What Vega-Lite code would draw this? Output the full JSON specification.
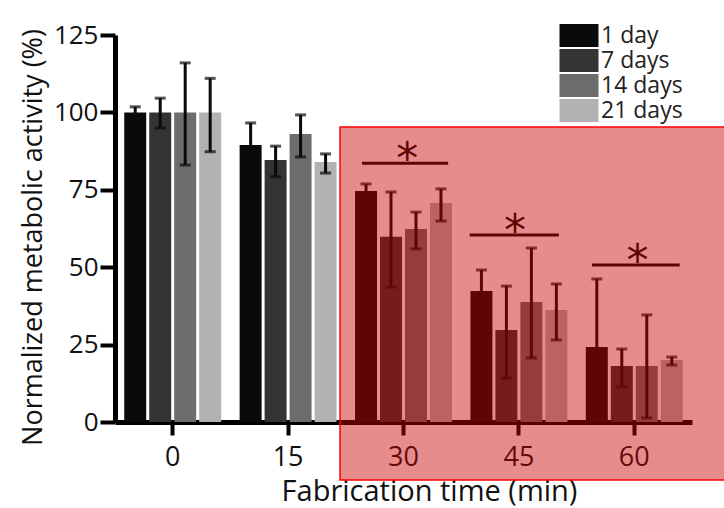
{
  "$schema": "https://vega.github.io/schema/vega-lite/v6.json",
  "autosize": "none",
  "width": 577,
  "height": 387,
  "padding": {"left": 115, "top": 35, "right": 32, "bottom": 86},
  "background": "white",
  "config": {
    "view": {"stroke": null},
    "font": "Open Sans",
    "axis": {"grid": false, "domainColor": "black", "tickColor": "black", "labelColor": "#111", "titleColor": "#111", "titleFontWeight": "normal", "labelFont": "Open Sans", "titleFont": "Open Sans"},
    "legend": {
      "symbolType": "M-1.95,-1.15L1.95,-1.15L1.95,1.15L-1.95,1.15Z",
      "symbolSize": 400,
      "symbolStrokeWidth": 0,
      "symbolOpacity": 1,
      "labelFontSize": 23,
      "labelFont": "Open Sans",
      "labelColor": "#222",
      "labelOffset": 10.5,
      "rowPadding": 1,
      "padding": 0
    }
  },
  "datasets": {
    "bars": [
      {"time": "0", "day": "1 day", "value": 100, "lo": 98.5, "hi": 101.8},
      {"time": "0", "day": "7 days", "value": 100, "lo": 95, "hi": 104.6},
      {"time": "0", "day": "14 days", "value": 100, "lo": 83, "hi": 116},
      {"time": "0", "day": "21 days", "value": 100, "lo": 87.3, "hi": 111},
      {"time": "15", "day": "1 day", "value": 89.5, "lo": 82.4, "hi": 96.6},
      {"time": "15", "day": "7 days", "value": 84.6, "lo": 79.2, "hi": 89.1},
      {"time": "15", "day": "14 days", "value": 93, "lo": 85.6, "hi": 99.2},
      {"time": "15", "day": "21 days", "value": 84, "lo": 80.4, "hi": 86.6},
      {"time": "30", "day": "1 day", "value": 74.6, "lo": 72.3, "hi": 76.9},
      {"time": "30", "day": "7 days", "value": 59.8, "lo": 43.6, "hi": 74.3},
      {"time": "30", "day": "14 days", "value": 62.3, "lo": 55.9, "hi": 67.8},
      {"time": "30", "day": "21 days", "value": 70.7, "lo": 64.9, "hi": 75.3},
      {"time": "45", "day": "1 day", "value": 42.3, "lo": 35.5, "hi": 49.1},
      {"time": "45", "day": "7 days", "value": 29.7, "lo": 14.2, "hi": 43.9},
      {"time": "45", "day": "14 days", "value": 38.8, "lo": 20.7, "hi": 56.2},
      {"time": "45", "day": "21 days", "value": 36.2, "lo": 26.5, "hi": 44.6},
      {"time": "60", "day": "1 day", "value": 24.2, "lo": 2.2, "hi": 46.2},
      {"time": "60", "day": "7 days", "value": 18.1, "lo": 11.3, "hi": 23.6},
      {"time": "60", "day": "14 days", "value": 18.1, "lo": 1.3, "hi": 34.6},
      {"time": "60", "day": "21 days", "value": 20, "lo": 18.4, "hi": 21.0}
    ],
    "sig": [
      {"x1": 24.6, "x2": 35.8, "xs": 30.5, "y": 83.6},
      {"x1": 38.6, "x2": 50.2, "xs": 44.5, "y": 60.4},
      {"x1": 54.5, "x2": 65.9, "xs": 60.4, "y": 50.7}
    ],
    "box": [
      {"x1": 21.75, "x2": 72.5, "y1": -18.7, "y2": 95.3}
    ]
  },
  "resolve": {"scale": {"x": "independent"}},
  "layer": [
    {
      "data": {"name": "bars"},
      "encoding": {
        "x": {
          "field": "time", "type": "ordinal", "sort": ["0", "15", "30", "45", "60"],
          "scale": {"paddingInner": 0.16, "paddingOuter": 0.08},
          "axis": {"title": "Fabrication time (min)", "titleFontSize": 29, "labelFontSize": 27, "labelAngle": 0, "domainWidth": 5, "tickWidth": 4, "tickSize": 13, "labelPadding": 9, "titlePadding": 7, "titleX": 314}
        },
        "xOffset": {"field": "day", "type": "nominal", "sort": ["1 day", "7 days", "14 days", "21 days"], "scale": {"paddingInner": 0.12}}
      },
      "layer": [
        {
          "mark": {"type": "bar"},
          "encoding": {
            "y": {
              "field": "value", "type": "quantitative",
              "scale": {"domain": [0, 125], "nice": false},
              "axis": {"title": "Normalized metabolic activity (%)", "titleFontSize": 27, "labelFontSize": 26, "values": [0, 25, 50, 75, 100, 125], "domainWidth": 5, "tickWidth": 4, "tickSize": 15, "labelPadding": 2, "titlePadding": 6, "titleY": 202}
            },
            "color": {
              "field": "day", "type": "nominal", "sort": ["1 day", "7 days", "14 days", "21 days"],
              "scale": {"domain": ["1 day", "7 days", "14 days", "21 days"], "range": ["#0a0a0a", "#343434", "#6d6d6d", "#b2b2b2"]},
              "legend": {"title": null, "orient": "none", "legendX": 452.5, "legendY": -11}
            }
          }
        },
        {
          "mark": {"type": "rule", "color": "#0a0a0a", "strokeWidth": 3},
          "encoding": {
            "y": {"field": "lo", "type": "quantitative"},
            "y2": {"field": "hi"}
          }
        },
        {
          "mark": {"type": "tick", "color": "#0a0a0a", "thickness": 3, "size": 11},
          "encoding": {"y": {"field": "lo", "type": "quantitative"}}
        },
        {
          "mark": {"type": "tick", "color": "#0a0a0a", "thickness": 3, "size": 11},
          "encoding": {"y": {"field": "hi", "type": "quantitative"}}
        }
      ]
    },
    {
      "layer": [
        {
          "data": {"name": "sig"},
          "mark": {"type": "rule", "color": "#0a0a0a", "strokeWidth": 3},
          "encoding": {
            "x": {"field": "x1", "type": "quantitative", "scale": {"domain": [-7.5, 67.5], "nice": false, "zero": false}, "axis": null},
            "x2": {"field": "x2"},
            "y": {"field": "y", "type": "quantitative"}
          }
        },
        {
          "data": {"name": "sig"},
          "mark": {"type": "text", "text": "*", "font": "DejaVu Sans", "fontSize": 44, "color": "#0a0a0a", "baseline": "alphabetic", "align": "center", "dy": 11},
          "encoding": {
            "x": {"field": "xs", "type": "quantitative", "scale": {"domain": [-7.5, 67.5], "nice": false, "zero": false}, "axis": null},
            "y": {"field": "y", "type": "quantitative"}
          }
        },
        {
          "data": {"name": "box"},
          "mark": {"type": "rect", "fill": "#c80000", "fillOpacity": 0.45, "stroke": "#ff0000", "strokeWidth": 1.5, "clip": false},
          "encoding": {
            "x": {"field": "x1", "type": "quantitative", "scale": {"domain": [-7.5, 67.5], "nice": false, "zero": false}, "axis": null},
            "x2": {"field": "x2"},
            "y": {"field": "y1", "type": "quantitative"},
            "y2": {"field": "y2"}
          }
        }
      ]
    }
  ]
}
